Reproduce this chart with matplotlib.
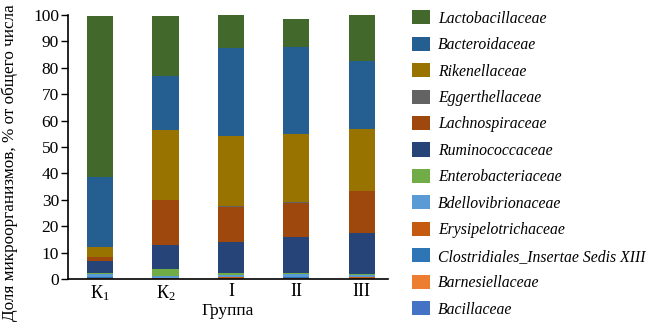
import matplotlib
matplotlib.use("Agg")
import matplotlib.pyplot as plt
import numpy as np

plt.rcParams['font.family'] = ['Liberation Serif', 'DejaVu Serif']
plt.rcParams['mathtext.fontset'] = 'custom'
plt.rcParams['mathtext.rm'] = 'Liberation Serif'
plt.rcParams['mathtext.it'] = 'Liberation Serif:italic'

groups = ['К$_1$', 'К$_2$', 'I', 'II', 'III']

# legend order (top to bottom); stacking is bottom = last
families = ['Lactobacillaceae', 'Bacteroidaceae', 'Rikenellaceae', 'Eggerthellaceae',
            'Lachnospiraceae', 'Ruminococcaceae', 'Enterobacteriaceae',
            'Bdellovibrionaceae', 'Erysipelotrichaceae',
            'Clostridiales_Insertae Sedis XIII', 'Barnesiellaceae', 'Bacillaceae']
colors = ['#43682B', '#255E91', '#997300', '#636363', '#9E480E', '#264478',
          '#70AD47', '#5B9BD5', '#C55A11', '#2E75B6', '#ED7D31', '#4472C4']

Lactobacillaceae    = [61.3, 22.5, 13.0, 10.4, 18.0]
Bacteroidaceae      = [26.2, 20.6, 33.5, 32.9, 25.7]
Rikenellaceae       = [3.9, 26.4, 26.5, 26.0, 23.5]
Eggerthellaceae     = [0.2, 0.2, 0.2, 0.2, 0.2]
Lachnospiraceae     = [1.2, 16.9, 13.2, 12.8, 15.8]
Ruminococcaceae     = [4.9, 9.1, 11.7, 13.8, 15.7]
Enterobacteriaceae  = [0.2, 2.7, 0.9, 0.2, 0.2]
Bdellovibrionaceae  = [1.0, 0.6, 0.8, 1.2, 1.0]
Erysipelotrichaceae = [0.2, 0.2, 0.2, 0.2, 0.2]
Clostridiales       = [0.5, 0.1, 0.3, 0.4, 0.2]
Barnesiellaceae     = [0.1, 0.1, 0.1, 0.1, 0.1]
Bacillaceae         = [0.1, 0.1, 0.1, 0.1, 0.1]

series = [Lactobacillaceae, Bacteroidaceae, Rikenellaceae, Eggerthellaceae,
          Lachnospiraceae, Ruminococcaceae, Enterobacteriaceae, Bdellovibrionaceae,
          Erysipelotrichaceae, Clostridiales, Barnesiellaceae, Bacillaceae]

fig = plt.figure(figsize=(6.5, 3.28), dpi=100)
ax = fig.add_axes([68/650, 1-279/328, 320/650, 264/328])

x = np.arange(len(groups))
bottom = np.zeros(len(groups))
handles = [None]*len(series)
for i in range(len(series)-1, -1, -1):
    vals = np.array(series[i])
    handles[i] = ax.bar(x, vals, width=0.4, bottom=bottom, color=colors[i],
                        label=families[i], linewidth=0)
    bottom += vals

ax.set_xlim(-0.49, 4.4)
ax.set_ylim(0, 100)
ax.set_yticks(np.arange(0, 101, 10))
ax.set_xticks(x)
ax.set_xticklabels(groups, fontsize=13)
ax.tick_params(axis='x', length=0, pad=3)
ax.tick_params(axis='y', length=5, width=1, labelsize=12.5, pad=1.5, direction='out')
for s in ['top', 'right']:
    ax.spines[s].set_visible(False)
for s in ['left', 'bottom']:
    ax.spines[s].set_linewidth(1.2)
ax.set_xlabel('Группа', fontsize=12.5, labelpad=0)
ax.set_ylabel('Доля микроорганизмов, % от общего числа', fontsize=12.3)
ax.yaxis.set_label_coords(-0.155, 0.44)

leg = fig.legend(handles=handles, labels=families, loc='upper left',
                 bbox_to_anchor=(406/650, 1-4/328), frameon=False,
                 prop={'style': 'italic', 'size': 11.3},
                 handlelength=1.1, handleheight=1.0, labelspacing=0.64,
                 handletextpad=0.55, borderaxespad=0)

fig.savefig('out.png', dpi=100)
